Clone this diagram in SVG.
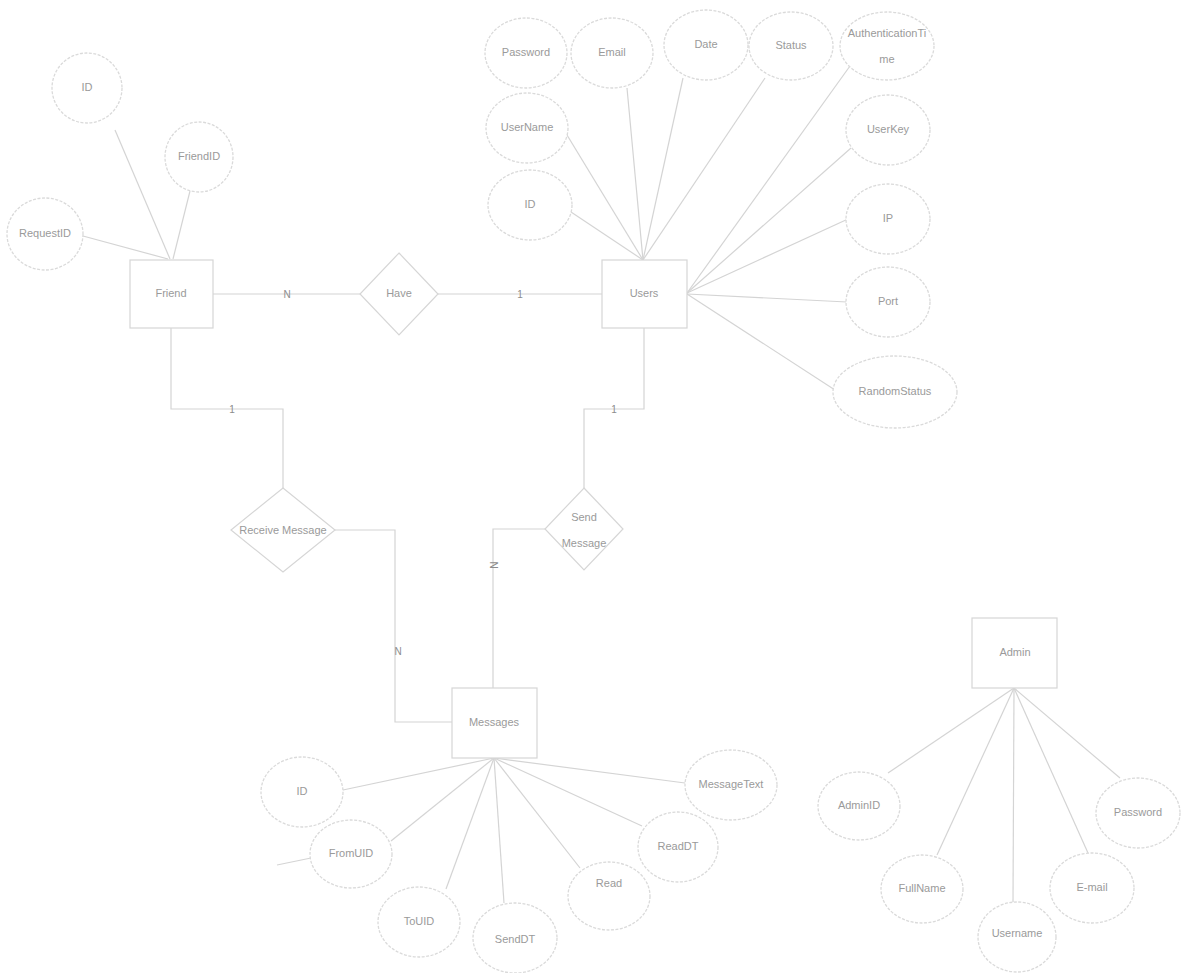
<svg xmlns="http://www.w3.org/2000/svg" width="1187" height="973" viewBox="0 0 1187 973">
<style>
.bg{fill:#ffffff}
.ent{fill:#ffffff;stroke:#d6d6d6;stroke-width:1.2}
.att{fill:#ffffff;stroke:#dadada;stroke-width:1.3;stroke-dasharray:3 1.5}
.rel{fill:#ffffff;stroke:#d6d6d6;stroke-width:1.2}
.ln{fill:none;stroke:#d4d4d4;stroke-width:1.2}
text{font-family:"Liberation Sans",Arial,sans-serif;font-size:11px;fill:#9a9a9a;text-anchor:middle;dominant-baseline:middle}
.card{font-size:10px;fill:#8c8c8c}
</style>
<rect class="bg" x="0" y="0" width="1187" height="973"/>
<g id="connectors">
  <!-- Friend attributes -->
  <line class="ln" x1="115" y1="130" x2="170" y2="259"/>
  <line class="ln" x1="190" y1="191" x2="173" y2="259"/>
  <line class="ln" x1="83" y1="236" x2="168" y2="259"/>
  <!-- Users attributes (top) -->
  <line class="ln" x1="567" y1="135" x2="643" y2="260"/>
  <line class="ln" x1="571" y1="212" x2="643" y2="260"/>
  <line class="ln" x1="627" y1="88" x2="643" y2="260"/>
  <line class="ln" x1="683" y1="78" x2="643" y2="260"/>
  <line class="ln" x1="765" y1="78" x2="643" y2="260"/>
  <!-- Users attributes (right) -->
  <line class="ln" x1="850" y1="66" x2="687" y2="293"/>
  <line class="ln" x1="851" y1="148" x2="687" y2="293"/>
  <line class="ln" x1="848" y1="219" x2="687" y2="293"/>
  <line class="ln" x1="847" y1="302" x2="687" y2="294"/>
  <line class="ln" x1="835" y1="390" x2="687" y2="294"/>
  <!-- Relationships -->
  <line class="ln" x1="213" y1="294" x2="360" y2="294"/>
  <line class="ln" x1="438" y1="294" x2="602" y2="294"/>
  <polyline class="ln" points="171,328 171,409 283,409 283,488"/>
  <polyline class="ln" points="644,328 644,409 584,409 584,488"/>
  <polyline class="ln" points="335,530 395,530 395,722 452,722"/>
  <polyline class="ln" points="545,529 493,529 493,688"/>
  <!-- Messages attributes -->
  <line class="ln" x1="343" y1="790" x2="494" y2="758"/>
  <line class="ln" x1="391" y1="841" x2="494" y2="758"/>
  <line class="ln" x1="277" y1="865" x2="311" y2="858"/>
  <line class="ln" x1="446" y1="889" x2="494" y2="758"/>
  <line class="ln" x1="504" y1="903" x2="494" y2="758"/>
  <line class="ln" x1="580" y1="868" x2="494" y2="758"/>
  <line class="ln" x1="642" y1="826" x2="494" y2="758"/>
  <line class="ln" x1="685" y1="783" x2="494" y2="758"/>
  <!-- Admin attributes -->
  <line class="ln" x1="888" y1="773" x2="1014" y2="688"/>
  <line class="ln" x1="937" y1="855" x2="1014" y2="688"/>
  <line class="ln" x1="1013" y1="902" x2="1014" y2="688"/>
  <line class="ln" x1="1088" y1="853" x2="1014" y2="688"/>
  <line class="ln" x1="1120" y1="778" x2="1014" y2="688"/>
  <!-- cardinalities -->
  <text class="card" x="287" y="295">N</text>
  <text class="card" x="520" y="295">1</text>
  <text class="card" x="232" y="410">1</text>
  <text class="card" x="614" y="410">1</text>
  <text class="card" x="493" y="565" transform="rotate(90 493 565)">N</text>
  <text class="card" x="398" y="652">N</text>
</g>
<g id="friend"><rect class="ent" x="130" y="260" width="83" height="68"/><text x="171" y="294">Friend</text></g>
<g id="friend-id"><ellipse class="att" cx="87" cy="88" rx="35" ry="35"/><text x="87" y="88">ID</text></g>
<g id="friend-friendid"><ellipse class="att" cx="199" cy="157" rx="34" ry="35"/><text x="199" y="157">FriendID</text></g>
<g id="friend-requestid"><ellipse class="att" cx="45" cy="234" rx="38" ry="36"/><text x="45" y="234">RequestID</text></g>

<g id="have"><polygon class="rel" points="399,253 438,294 399,335 360,294"/><text x="399" y="294">Have</text></g>

<g id="users"><rect class="ent" x="602" y="260" width="85" height="68"/><text x="644" y="294">Users</text></g>
<g id="user-password"><ellipse class="att" cx="526" cy="53" rx="41" ry="35"/><text x="526" y="53">Password</text></g>
<g id="user-email"><ellipse class="att" cx="612" cy="53" rx="41" ry="35"/><text x="612" y="53">Email</text></g>
<g id="user-date"><ellipse class="att" cx="706" cy="45" rx="42" ry="35"/><text x="706" y="45">Date</text></g>
<g id="user-status"><ellipse class="att" cx="791" cy="46" rx="42" ry="34"/><text x="791" y="46">Status</text></g>
<g id="user-authtime"><ellipse class="att" cx="887" cy="46" rx="47" ry="34"/><text x="887" y="34">AuthenticationTi</text><text x="887" y="60">me</text></g>
<g id="user-username"><ellipse class="att" cx="527" cy="128" rx="41" ry="35"/><text x="527" y="128">UserName</text></g>
<g id="user-id"><ellipse class="att" cx="530" cy="205" rx="42" ry="35"/><text x="530" y="205">ID</text></g>
<g id="user-userkey"><ellipse class="att" cx="888" cy="130" rx="42" ry="35"/><text x="888" y="130">UserKey</text></g>
<g id="user-ip"><ellipse class="att" cx="888" cy="219" rx="42" ry="35"/><text x="888" y="219">IP</text></g>
<g id="user-port"><ellipse class="att" cx="888" cy="302" rx="42" ry="35"/><text x="888" y="302">Port</text></g>
<g id="user-randomstatus"><ellipse class="att" cx="895" cy="392" rx="62" ry="36"/><text x="895" y="392">RandomStatus</text></g>

<g id="receive-message"><polygon class="rel" points="283,488 335,530 283,572 231,530"/><text x="283" y="531">Receive Message</text></g>
<g id="send-message"><polygon class="rel" points="584,488 623,529 584,570 545,529"/><text x="584" y="518">Send</text><text x="584" y="544">Message</text></g>

<g id="messages"><rect class="ent" x="452" y="688" width="85" height="70"/><text x="494" y="723">Messages</text></g>
<g id="msg-id"><ellipse class="att" cx="302" cy="792" rx="41" ry="35"/><text x="302" y="792">ID</text></g>
<g id="msg-fromuid"><ellipse class="att" cx="351" cy="854" rx="41" ry="34"/><text x="351" y="854">FromUID</text></g>
<g id="msg-touid"><ellipse class="att" cx="419" cy="922" rx="41" ry="35"/><text x="419" y="922">ToUID</text></g>
<g id="msg-senddt"><ellipse class="att" cx="515" cy="938" rx="42" ry="35"/><text x="515" y="940">SendDT</text></g>
<g id="msg-read"><ellipse class="att" cx="609" cy="896" rx="41" ry="34"/><text x="609" y="884">Read</text></g>
<g id="msg-readdt"><ellipse class="att" cx="678" cy="847" rx="40" ry="35"/><text x="678" y="847">ReadDT</text></g>
<g id="msg-messagetext"><ellipse class="att" cx="731" cy="785" rx="46" ry="35"/><text x="731" y="785">MessageText</text></g>

<g id="admin"><rect class="ent" x="972" y="618" width="85" height="70"/><text x="1015" y="653">Admin</text></g>
<g id="admin-adminid"><ellipse class="att" cx="859" cy="806" rx="41" ry="34"/><text x="859" y="806">AdminID</text></g>
<g id="admin-fullname"><ellipse class="att" cx="922" cy="889" rx="41" ry="34"/><text x="922" y="889">FullName</text></g>
<g id="admin-username"><ellipse class="att" cx="1017" cy="937" rx="39" ry="35"/><text x="1017" y="934">Username</text></g>
<g id="admin-email"><ellipse class="att" cx="1092" cy="888" rx="42" ry="35"/><text x="1092" y="888">E-mail</text></g>
<g id="admin-password"><ellipse class="att" cx="1138" cy="813" rx="42" ry="35"/><text x="1138" y="813">Password</text></g>
</svg>
